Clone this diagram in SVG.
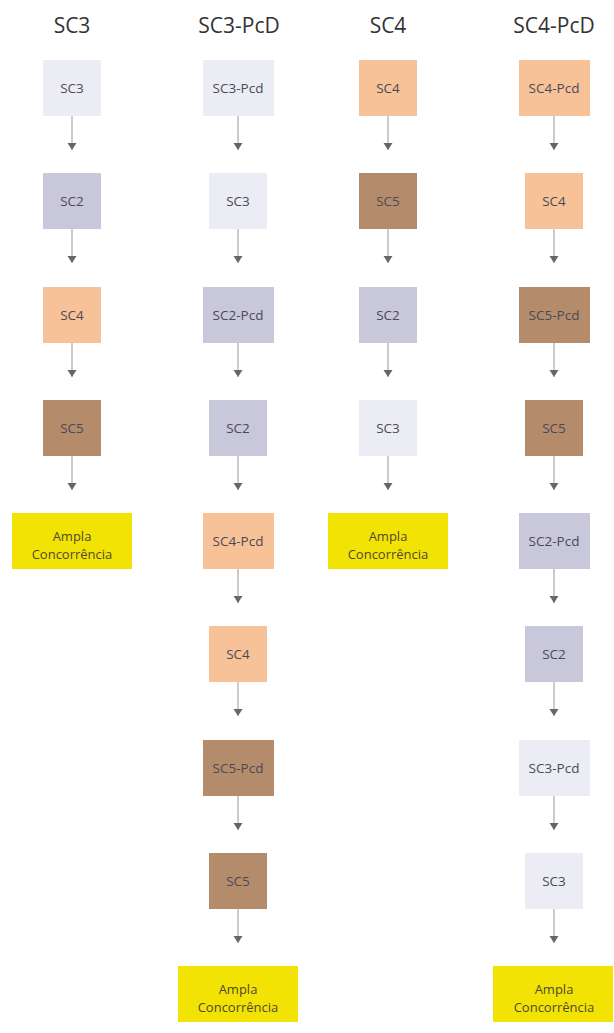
<svg xmlns="http://www.w3.org/2000/svg" width="614" height="1033" viewBox="0 0 614 1033">
<style>
.hd{font-family:"Open Sans","DejaVu Sans",sans-serif;font-size:21px;fill:#333;text-anchor:middle}
.t{font-family:"Open Sans","DejaVu Sans",sans-serif;font-size:13.5px;fill:#4a4a55;text-anchor:middle}
.ta{font-family:"Open Sans","DejaVu Sans",sans-serif;font-size:13px;fill:#4d4a30;text-anchor:middle}
.l{fill:#ececf4}.v{fill:#c9c7da}.p{fill:#f7c297}.b{fill:#b48c6c}.y{fill:#f3e304}
.c line{stroke:#999;stroke-width:1}
</style>
<defs>
<marker id="ah" markerUnits="userSpaceOnUse" markerWidth="10" markerHeight="8" refX="5" refY="7" orient="0" viewBox="0 0 10 8">
<path d="M0.5,0 L9.5,0 L5,7 Z" fill="#666"/>
</marker>
</defs>
<rect width="614" height="1033" fill="#fff"/>
<g id="headers">
<text class="hd" x="72" y="33">SC3</text>
<text class="hd" x="239" y="33">SC3-PcD</text>
<text class="hd" x="388" y="33">SC4</text>
<text class="hd" x="554" y="33">SC4-PcD</text>
</g>
<g id="connectors" class="c">
<line x1="72" y1="116" x2="72" y2="150" marker-end="url(#ah)"/>
<line x1="72" y1="229" x2="72" y2="263" marker-end="url(#ah)"/>
<line x1="72" y1="343" x2="72" y2="377" marker-end="url(#ah)"/>
<line x1="72" y1="456" x2="72" y2="490" marker-end="url(#ah)"/>
<line x1="238" y1="116" x2="238" y2="150" marker-end="url(#ah)"/>
<line x1="238" y1="229" x2="238" y2="263" marker-end="url(#ah)"/>
<line x1="238" y1="343" x2="238" y2="377" marker-end="url(#ah)"/>
<line x1="238" y1="456" x2="238" y2="490" marker-end="url(#ah)"/>
<line x1="238" y1="569" x2="238" y2="603" marker-end="url(#ah)"/>
<line x1="238" y1="682" x2="238" y2="716" marker-end="url(#ah)"/>
<line x1="238" y1="796" x2="238" y2="830" marker-end="url(#ah)"/>
<line x1="238" y1="909" x2="238" y2="943" marker-end="url(#ah)"/>
<line x1="388" y1="116" x2="388" y2="150" marker-end="url(#ah)"/>
<line x1="388" y1="229" x2="388" y2="263" marker-end="url(#ah)"/>
<line x1="388" y1="343" x2="388" y2="377" marker-end="url(#ah)"/>
<line x1="388" y1="456" x2="388" y2="490" marker-end="url(#ah)"/>
<line x1="554" y1="116" x2="554" y2="150" marker-end="url(#ah)"/>
<line x1="554" y1="229" x2="554" y2="263" marker-end="url(#ah)"/>
<line x1="554" y1="343" x2="554" y2="377" marker-end="url(#ah)"/>
<line x1="554" y1="456" x2="554" y2="490" marker-end="url(#ah)"/>
<line x1="554" y1="569" x2="554" y2="603" marker-end="url(#ah)"/>
<line x1="554" y1="682" x2="554" y2="716" marker-end="url(#ah)"/>
<line x1="554" y1="796" x2="554" y2="830" marker-end="url(#ah)"/>
<line x1="554" y1="909" x2="554" y2="943" marker-end="url(#ah)"/>
</g>
<g id="c1-sc3"><rect class="l" x="43" y="60" width="58" height="56"/><text class="t" x="72" y="93">SC3</text></g>
<g id="c1-sc2"><rect class="v" x="43" y="173" width="58" height="56"/><text class="t" x="72" y="206">SC2</text></g>
<g id="c1-sc4"><rect class="p" x="43" y="287" width="58" height="56"/><text class="t" x="72" y="320">SC4</text></g>
<g id="c1-sc5"><rect class="b" x="43" y="400" width="58" height="56"/><text class="t" x="72" y="433">SC5</text></g>
<g id="c1-ampla"><rect class="y" x="12" y="513" width="120" height="56"/><text class="ta" x="72" y="541">Ampla</text><text class="ta" x="72" y="559">Concorrência</text></g>

<g id="c2-sc3pcd"><rect class="l" x="203" y="60" width="71" height="56"/><text class="t" x="238" y="93">SC3-Pcd</text></g>
<g id="c2-sc3"><rect class="l" x="209" y="173" width="58" height="56"/><text class="t" x="238" y="206">SC3</text></g>
<g id="c2-sc2pcd"><rect class="v" x="203" y="287" width="71" height="56"/><text class="t" x="238" y="320">SC2-Pcd</text></g>
<g id="c2-sc2"><rect class="v" x="209" y="400" width="58" height="56"/><text class="t" x="238" y="433">SC2</text></g>
<g id="c2-sc4pcd"><rect class="p" x="203" y="513" width="71" height="56"/><text class="t" x="238" y="546">SC4-Pcd</text></g>
<g id="c2-sc4"><rect class="p" x="209" y="626" width="58" height="56"/><text class="t" x="238" y="659">SC4</text></g>
<g id="c2-sc5pcd"><rect class="b" x="203" y="740" width="71" height="56"/><text class="t" x="238" y="773">SC5-Pcd</text></g>
<g id="c2-sc5"><rect class="b" x="209" y="853" width="58" height="56"/><text class="t" x="238" y="886">SC5</text></g>
<g id="c2-ampla"><rect class="y" x="178" y="966" width="120" height="56"/><text class="ta" x="238" y="994">Ampla</text><text class="ta" x="238" y="1012">Concorrência</text></g>

<g id="c3-sc4"><rect class="p" x="359" y="60" width="58" height="56"/><text class="t" x="388" y="93">SC4</text></g>
<g id="c3-sc5"><rect class="b" x="359" y="173" width="58" height="56"/><text class="t" x="388" y="206">SC5</text></g>
<g id="c3-sc2"><rect class="v" x="359" y="287" width="58" height="56"/><text class="t" x="388" y="320">SC2</text></g>
<g id="c3-sc3"><rect class="l" x="359" y="400" width="58" height="56"/><text class="t" x="388" y="433">SC3</text></g>
<g id="c3-ampla"><rect class="y" x="328" y="513" width="120" height="56"/><text class="ta" x="388" y="541">Ampla</text><text class="ta" x="388" y="559">Concorrência</text></g>

<g id="c4-sc4pcd"><rect class="p" x="519" y="60" width="71" height="56"/><text class="t" x="554" y="93">SC4-Pcd</text></g>
<g id="c4-sc4"><rect class="p" x="525" y="173" width="58" height="56"/><text class="t" x="554" y="206">SC4</text></g>
<g id="c4-sc5pcd"><rect class="b" x="519" y="287" width="71" height="56"/><text class="t" x="554" y="320">SC5-Pcd</text></g>
<g id="c4-sc5"><rect class="b" x="525" y="400" width="58" height="56"/><text class="t" x="554" y="433">SC5</text></g>
<g id="c4-sc2pcd"><rect class="v" x="519" y="513" width="71" height="56"/><text class="t" x="554" y="546">SC2-Pcd</text></g>
<g id="c4-sc2"><rect class="v" x="525" y="626" width="58" height="56"/><text class="t" x="554" y="659">SC2</text></g>
<g id="c4-sc3pcd"><rect class="l" x="519" y="740" width="71" height="56"/><text class="t" x="554" y="773">SC3-Pcd</text></g>
<g id="c4-sc3"><rect class="l" x="525" y="853" width="58" height="56"/><text class="t" x="554" y="886">SC3</text></g>
<g id="c4-ampla"><rect class="y" x="493" y="966" width="120" height="56"/><text class="ta" x="554" y="994">Ampla</text><text class="ta" x="554" y="1012">Concorrência</text></g>
</svg>
